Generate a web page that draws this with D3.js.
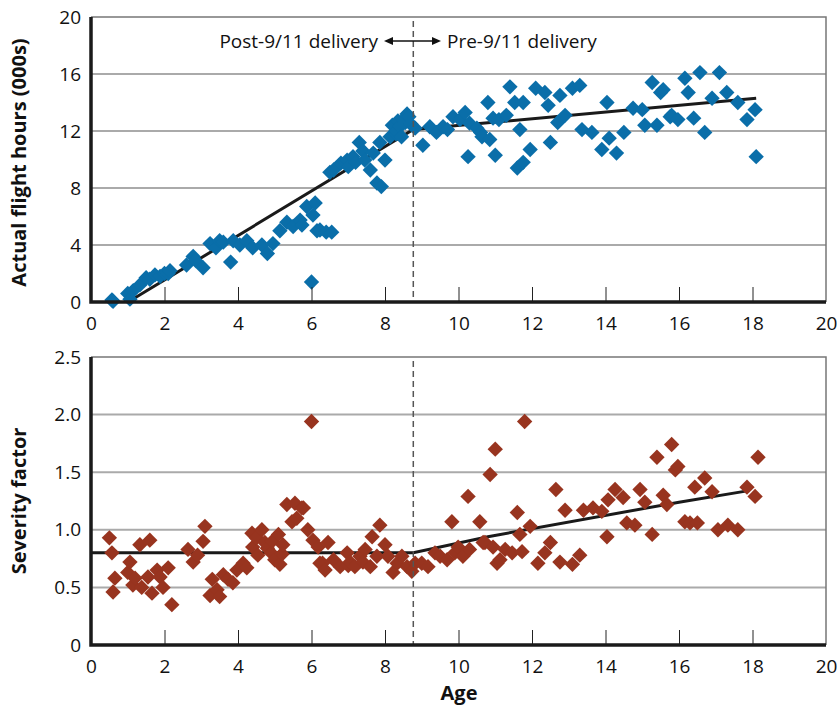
<!DOCTYPE html>
<html>
<head>
<meta charset="utf-8">
<script src="https://cdn.jsdelivr.net/npm/d3@7"></script>
<style>
  body { margin: 0; background: #fff; }
  svg { display: block; }
  .tick text { font-family: "Open Sans", sans-serif; font-size: 19px; fill: #111; }
  .title { font-family: "Open Sans", sans-serif; font-weight: bold; font-size: 20px; fill: #111; }
  .note { font-family: "Open Sans", sans-serif; font-size: 19px; fill: #111; }
</style>
</head>
<body>
<svg id="chart" width="837" height="706"></svg>
<script>
// --- data ---
const topAge = [0.57, 0.6, 1.0, 1.06, 1.15, 1.33, 1.5, 1.6, 1.74, 1.88, 2.0, 2.1, 2.15, 2.6, 2.78, 2.85, 3.05, 3.24, 3.4, 3.5, 3.6, 3.8, 3.87, 4.05, 4.24, 4.4, 4.65, 4.8, 4.95, 5.14, 5.33, 5.5, 5.69, 5.74, 5.87, 6.0, 6.04, 6.1, 6.15, 6.23, 6.4, 6.55, 6.5, 6.6, 6.8, 6.97, 7.0, 7.13, 7.2, 7.3, 7.4, 7.45, 7.6, 7.68, 7.78, 7.86, 7.9, 8.0, 8.14, 8.2, 8.3, 8.3, 8.35, 8.4, 8.45, 8.5, 8.55, 8.6, 8.65, 8.7, 8.82, 9.03, 9.22, 9.4, 9.58, 9.7, 9.85, 10.04, 10.18, 10.26, 10.3, 10.5, 10.6, 10.64, 10.8, 10.85, 10.94, 11.0, 11.1, 11.3, 11.4, 11.53, 11.6, 11.67, 11.76, 11.76, 11.95, 12.1, 12.35, 12.44, 12.5, 12.7, 12.76, 12.9, 13.1, 13.3, 13.36, 13.63, 13.9, 14.04, 14.1, 14.3, 14.5, 14.75, 15.0, 15.07, 15.27, 15.4, 15.5, 15.57, 15.76, 15.8, 15.97, 16.16, 16.25, 16.4, 16.57, 16.7, 16.9, 17.1, 17.3, 17.6, 17.85, 18.07, 18.1];
const topHours = [0.14, 0.05, 0.6, 0.2, 0.8, 1.2, 1.7, 1.6, 1.9, 1.8, 2.0, 2.0, 2.2, 2.6, 3.2, 2.9, 2.4, 4.1, 3.8, 4.3, 4.2, 2.8, 4.3, 4.0, 4.3, 3.8, 4.0, 3.4, 4.1, 5.0, 5.6, 5.3, 5.75, 5.4, 6.7, 1.4, 6.1, 6.95, 5.0, 5.05, 4.9, 4.9, 9.1, 9.26, 9.75, 9.96, 9.5, 10.2, 9.8, 11.2, 10.6, 9.96, 9.26, 10.45, 8.35, 11.2, 8.1, 9.96, 11.6, 12.4, 11.8, 12.0, 12.7, 12.3, 11.6, 12.8, 12.6, 13.2, 13.0, 12.5, 12.2, 11.0, 12.3, 11.9, 12.3, 12.1, 13.0, 12.8, 13.3, 10.2, 12.55, 12.2, 11.9, 11.6, 14.0, 11.4, 12.9, 10.3, 12.8, 13.1, 15.1, 14.0, 9.4, 12.1, 14.0, 9.8, 10.7, 15.0, 14.7, 13.8, 11.2, 12.6, 14.5, 13.1, 15.0, 15.2, 12.1, 11.9, 10.7, 14.0, 11.5, 10.45, 11.9, 13.6, 13.5, 12.4, 15.4, 12.4, 14.7, 14.9, 13.0, 13.1, 12.8, 15.7, 14.7, 12.9, 16.1, 11.9, 14.3, 16.1, 14.7, 14.0, 12.8, 13.5, 10.2];

const botAge = [0.5, 0.57, 0.65, 0.6, 1.0, 1.06, 1.14, 1.2, 1.33, 1.38, 1.55, 1.6, 1.66, 1.8, 1.88, 1.96, 2.1, 2.2, 2.64, 2.78, 2.9, 3.05, 3.1, 3.24, 3.3, 3.43, 3.5, 3.6, 3.73, 3.86, 3.97, 4.14, 4.24, 4.38, 4.4, 4.5, 4.54, 4.65, 4.73, 4.8, 4.9, 4.93, 5.0, 5.1, 5.14, 5.2, 5.22, 5.33, 5.47, 5.55, 5.6, 5.74, 5.78, 5.9, 6.0, 6.04, 6.18, 6.23, 6.3, 6.37, 6.45, 6.6, 6.78, 6.97, 7.0, 7.05, 7.18, 7.32, 7.4, 7.46, 7.6, 7.65, 7.78, 7.86, 8.0, 8.08, 8.22, 8.33, 8.46, 8.6, 8.73, 8.82, 9.0, 9.17, 9.36, 9.5, 9.69, 9.82, 9.9, 9.99, 10.12, 10.26, 10.3, 10.58, 10.67, 10.72, 10.86, 10.94, 11.0, 11.05, 11.13, 11.27, 11.46, 11.6, 11.67, 11.73, 11.8, 11.95, 12.16, 12.35, 12.5, 12.65, 12.76, 12.9, 13.1, 13.3, 13.4, 13.66, 13.9, 14.04, 14.07, 14.26, 14.48, 14.58, 14.8, 14.94, 15.07, 15.27, 15.4, 15.57, 15.67, 15.8, 15.9, 15.97, 16.16, 16.3, 16.43, 16.5, 16.7, 16.9, 17.06, 17.33, 17.6, 17.85, 18.07, 18.15];
const botSeverity = [0.93, 0.8, 0.58, 0.46, 0.63, 0.72, 0.52, 0.58, 0.87, 0.5, 0.59, 0.91, 0.45, 0.65, 0.59, 0.5, 0.67, 0.35, 0.83, 0.72, 0.78, 0.9, 1.03, 0.43, 0.57, 0.48, 0.42, 0.61, 0.57, 0.54, 0.65, 0.71, 0.67, 0.97, 0.85, 0.93, 0.78, 1.0, 0.89, 0.84, 0.8, 0.9, 0.74, 0.96, 0.7, 0.79, 0.87, 1.22, 1.07, 1.23, 1.1, 1.19, 1.19, 1.0, 1.94, 0.91, 0.85, 0.71, 0.71, 0.65, 0.89, 0.74, 0.68, 0.8, 0.69, 0.72, 0.68, 0.77, 0.72, 0.83, 0.68, 0.94, 0.77, 1.04, 0.87, 0.77, 0.63, 0.71, 0.77, 0.68, 0.64, 0.71, 0.71, 0.68, 0.8, 0.77, 0.74, 1.07, 0.8, 0.85, 0.77, 1.29, 0.83, 1.07, 0.89, 0.89, 1.48, 0.85, 1.7, 0.71, 0.74, 0.83, 0.8, 1.15, 0.96, 0.81, 1.94, 1.03, 0.71, 0.8, 0.89, 1.35, 0.72, 1.17, 0.7, 0.78, 1.17, 1.19, 1.16, 0.94, 1.26, 1.35, 1.28, 1.06, 1.04, 1.35, 1.24, 0.96, 1.63, 1.3, 1.22, 1.74, 1.52, 1.55, 1.07, 1.06, 1.37, 1.06, 1.45, 1.33, 1.0, 1.04, 1.0, 1.37, 1.29, 1.63];

const trendTopAge = [1.2, 8.77, 18.1];
const trendTopHours = [0.3, 12.1, 14.3];
const trendBotAge = [0, 8.77, 10.8, 16.0, 17.9];
const trendBotSeverity = [0.8, 0.8, 0.94, 1.24, 1.34];

const xTicks = [0, 2, 4, 6, 8, 10, 12, 14, 16, 18, 20];
const topTicks = [0, 4, 8, 12, 16, 20];
const botTicks = [0, 0.5, 1.0, 1.5, 2.0, 2.5];
const deliveryAge = 8.77;

const svg = d3.select("#chart");
const left = 91, right = 826;

const x = d3.scaleLinear().domain([0, 20]).range([left, right]);
const yTop = d3.scaleLinear().domain([0, 20]).range([302, 17]);
const yBot = d3.scaleLinear().domain([0, 2.5]).range([645, 357]);

const diamond = d3.symbol().type(d3.symbolSquare).size(118);

function panel(y, ticks, fmt, ages, vals, color, tAge, tVal) {
    const g = svg.append("g");
    const [y0, y1] = y.range();

    // gridlines
    g.selectAll("line.grid")
        .data(ticks.filter(t => t > 0 && t < y.domain()[1]))
        .enter().append("line")
        .attr("x1", left).attr("x2", right)
        .attr("y1", d => y(d)).attr("y2", d => y(d))
        .attr("stroke", "#aaa").attr("stroke-width", 2);

    // frame top / right
    g.append("path")
        .attr("d", `M${left},${y1}H${right}V${y0}`)
        .attr("fill", "none").attr("stroke", "#777").attr("stroke-width", 1.5);

    // trend line
    g.append("path")
        .datum(tAge.map((a, i) => [a, tVal[i]]))
        .attr("d", d3.line().x(d => x(d[0])).y(d => y(d[1])))
        .attr("fill", "none").attr("stroke", "#1a1a1a").attr("stroke-width", 3);

    // points
    g.selectAll("path.pt")
        .data(ages.map((a, i) => [a, vals[i]]))
        .enter().append("path")
        .attr("d", diamond)
        .attr("transform", d => `translate(${x(d[0])},${y(d[1])}) rotate(45)`)
        .attr("fill", color);

    // dashed delivery line
    g.append("line")
        .attr("x1", x(deliveryAge)).attr("x2", x(deliveryAge))
        .attr("y1", y1 + 4).attr("y2", y0)
        .attr("stroke", "#555").attr("stroke-width", 1.5)
        .attr("stroke-dasharray", "6,4");

    // x axis
    const xa = g.append("g")
        .attr("transform", `translate(0,${y0})`)
        .call(d3.axisBottom(x).tickValues(xTicks).tickSize(-15).tickPadding(15));
    xa.select(".domain").remove();
    xa.selectAll(".tick line").attr("stroke", "#222");
    xa.selectAll(".tick").filter(d => d === 0 || d === 20).select("line").remove();

    // y axis
    const ya = g.append("g")
        .attr("transform", `translate(${left},0)`)
        .call(d3.axisLeft(y).tickValues(ticks).tickFormat(fmt).tickSize(0).tickPadding(10));
    ya.select(".domain").remove();

    g.append("path")
        .attr("d", `M${left},${y1}V${y0}H${right}`)
        .attr("fill", "none").attr("stroke", "#1a1a1a").attr("stroke-width", 3.5);
}

panel(yTop, topTicks, d3.format("d"), topAge, topHours, "#0a6ea9", trendTopAge, trendTopHours);
panel(yBot, botTicks, d => d === 0 ? "0" : d3.format(".1f")(d), botAge, botSeverity, "#98341f", trendBotAge, trendBotSeverity);

// axis titles
svg.append("text").attr("class", "title")
    .attr("transform", `translate(26,${(17 + 302) / 2 + 3}) rotate(-90)`)
    .attr("text-anchor", "middle").text("Actual flight hours (000s)");
svg.append("text").attr("class", "title")
    .attr("transform", `translate(26,${(357 + 645) / 2}) rotate(-90)`)
    .attr("text-anchor", "middle").text("Severity factor");
svg.append("text").attr("class", "title")
    .attr("x", 459).attr("y", 700)
    .attr("text-anchor", "middle").text("Age");

// annotation
const ay = 41;
svg.append("text").attr("class", "note")
    .attr("x", 378).attr("y", 48).attr("text-anchor", "end").text("Post-9/11 delivery");
svg.append("text").attr("class", "note")
    .attr("x", 447).attr("y", 48).attr("text-anchor", "start").text("Pre-9/11 delivery");
svg.append("line").attr("x1", 390).attr("x2", 435).attr("y1", ay).attr("y2", ay)
    .attr("stroke", "#111").attr("stroke-width", 1.5);
svg.append("path").attr("d", `M384,${ay}l9,-4v8z M441,${ay}l-9,-4v8z`).attr("fill", "#111");
</script>
</body>
</html>
